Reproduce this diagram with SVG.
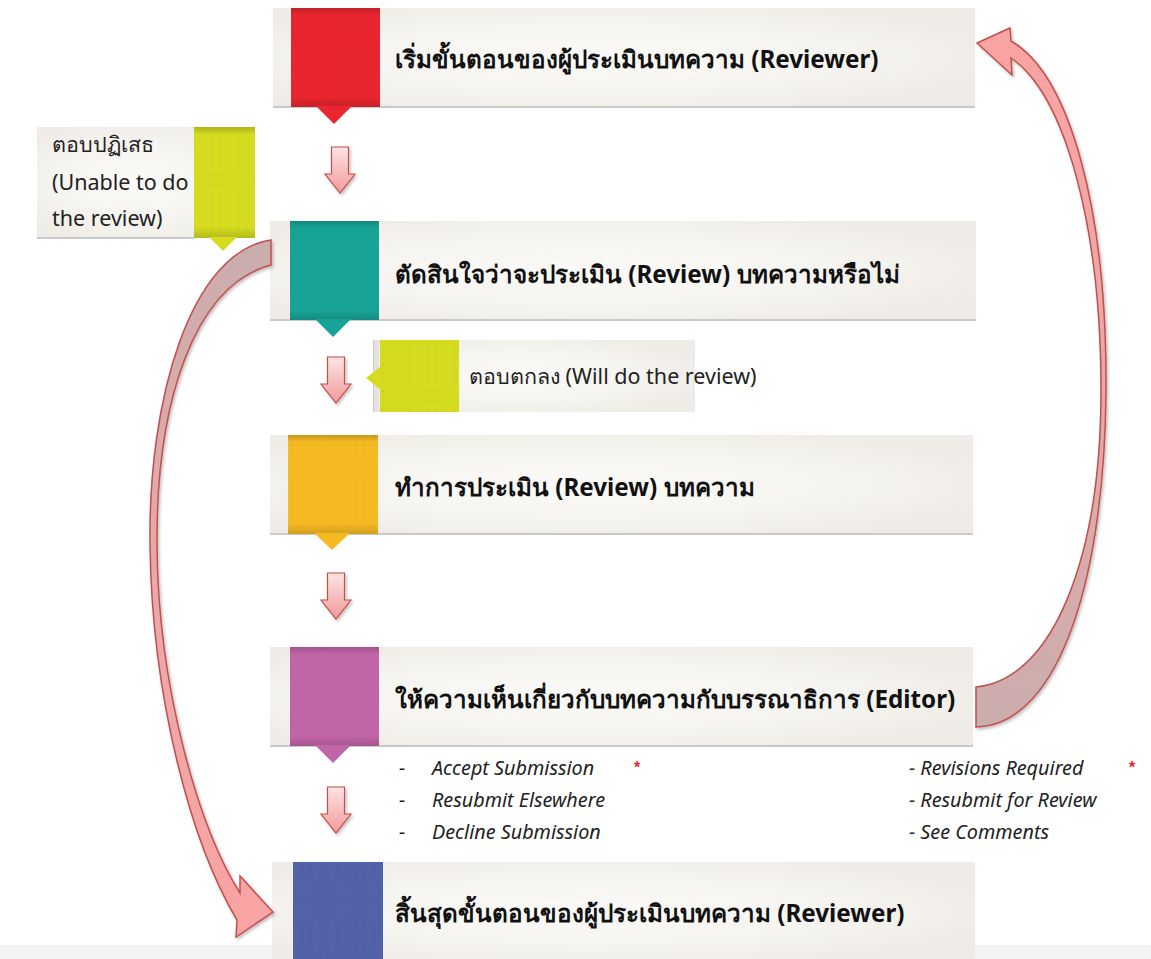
<svg xmlns="http://www.w3.org/2000/svg" width="1151" height="959" viewBox="0 0 1151 959">
<style>
.title{font-family:"Noto Sans","DejaVu Sans",sans-serif;font-weight:bold;font-size:24.2px;fill:#111}
.note{font-family:"Noto Sans","DejaVu Sans",sans-serif;font-size:21.5px;fill:#222}
.item{font-family:"Noto Sans","DejaVu Sans",sans-serif;font-style:italic;font-size:19.8px;fill:#222}
.star{font-family:"Liberation Sans",sans-serif;font-size:16px;fill:#e8232f;font-weight:bold}
.bg{fill:url(#bgGrad)}
.base{stroke:#c9c9c9;stroke-width:2}
.dots{fill:url(#dotPat)}
.shade{fill:url(#tabShade)}
.curve{stroke:#c0504d;stroke-width:1.5;filter:url(#sh)}
</style>
<defs>
<radialGradient id="bgGrad" cx="0.45" cy="0.5" r="0.6">
<stop offset="0" stop-color="#fbfaf8"/>
<stop offset="0.6" stop-color="#f6f4f0"/>
<stop offset="1" stop-color="#efece7"/>
</radialGradient>
<pattern id="dotPat" width="9" height="9" patternUnits="userSpaceOnUse">
<circle cx="4.5" cy="4.5" r="1" fill="#000" fill-opacity="0.07"/>
</pattern>
<linearGradient id="tabShade" x1="0" y1="0" x2="0" y2="1">
<stop offset="0" stop-color="#000" stop-opacity="0.18"/>
<stop offset="0.07" stop-color="#000" stop-opacity="0"/>
<stop offset="0.9" stop-color="#000" stop-opacity="0"/>
<stop offset="1" stop-color="#000" stop-opacity="0.15"/>
</linearGradient>
<linearGradient id="downGrad" x1="0" y1="0" x2="0" y2="1">
<stop offset="0" stop-color="#fde4e4"/>
<stop offset="1" stop-color="#f39a9a"/>
</linearGradient>
<linearGradient id="leftGrad" gradientUnits="userSpaceOnUse" x1="0" y1="240" x2="0" y2="937">
<stop offset="0" stop-color="#c9adad"/>
<stop offset="0.45" stop-color="#e6a9a9"/>
<stop offset="1" stop-color="#fba3a3"/>
</linearGradient>
<linearGradient id="rightGrad" gradientUnits="userSpaceOnUse" x1="0" y1="727" x2="0" y2="28">
<stop offset="0" stop-color="#c9adad"/>
<stop offset="0.45" stop-color="#e6a9a9"/>
<stop offset="1" stop-color="#fba3a3"/>
</linearGradient>
<filter id="sh" x="-20%" y="-20%" width="140%" height="140%">
<feDropShadow dx="1.5" dy="2" stdDeviation="1.5" flood-color="#000" flood-opacity="0.25"/>
</filter>
<path id="downArrow" d="M -8.5,0 H 8.5 V 27 H 15 L 0,46 L -15,27 H -8.5 Z" fill="url(#downGrad)" stroke="#c0504d" stroke-width="1.2"/>
</defs>

<rect x="0" y="945" width="1151" height="14" fill="#f3f3f3"/>

<g id="node-start">
<rect class="bg" x="273" y="8" width="702" height="99"/>
<line class="base" x1="273" y1="107" x2="975" y2="107"/>
<rect x="291" y="8" width="89" height="99" fill="#e9262f"/>
<rect class="dots" x="291" y="8" width="89" height="99"/>
<rect class="shade" x="291" y="8" width="89" height="99"/>
<polygon points="316,106 352,106 334,124" fill="#e9262f"/>
<text class="title" x="395" y="68">เริ่มขั้นตอนของผู้ประเมินบทความ (Reviewer)</text>
</g>

<g id="node-decide">
<rect class="bg" x="270" y="221" width="706" height="99"/>
<line class="base" x1="270" y1="320" x2="976" y2="320"/>
<rect x="290" y="221" width="89" height="99" fill="#17a496"/>
<rect class="dots" x="290" y="221" width="89" height="99"/>
<rect class="shade" x="290" y="221" width="89" height="99"/>
<polygon points="315,319 351,319 333,337" fill="#17a496"/>
<text class="title" x="395" y="283">ตัดสินใจว่าจะประเมิน (Review) บทความหรือไม่</text>
</g>

<g id="node-review">
<rect class="bg" x="270" y="435" width="703" height="99"/>
<line class="base" x1="270" y1="534" x2="973" y2="534"/>
<rect x="288" y="435" width="90" height="99" fill="#f5b922"/>
<rect class="dots" x="288" y="435" width="90" height="99"/>
<rect class="shade" x="288" y="435" width="90" height="99"/>
<polygon points="314,533 350,533 332,550" fill="#f5b922"/>
<text class="title" x="395" y="496">ทำการประเมิน (Review) บทความ</text>
</g>

<g id="node-comment">
<rect class="bg" x="270" y="647" width="703" height="99"/>
<line class="base" x1="270" y1="746" x2="973" y2="746"/>
<rect x="290" y="647" width="89" height="99" fill="#c265a8"/>
<rect class="dots" x="290" y="647" width="89" height="99"/>
<rect class="shade" x="290" y="647" width="89" height="99"/>
<polygon points="315,745 351,745 333,763" fill="#c265a8"/>
<text class="title" x="395" y="708">ให้ความเห็นเกี่ยวกับบทความกับบรรณาธิการ (Editor)</text>
</g>

<g id="node-end">
<rect class="bg" x="272" y="862" width="703" height="97"/>
<rect x="293" y="862" width="90" height="97" fill="#5361a9"/>
<rect class="dots" x="293" y="862" width="90" height="97"/>
<text class="title" x="395" y="922">สิ้นสุดขั้นตอนของผู้ประเมินบทความ (Reviewer)</text>
</g>

<g id="note-decline">
<rect class="bg" x="37" y="127" width="218" height="111"/>
<line class="base" x1="37" y1="238" x2="194" y2="238"/>
<rect x="194" y="127" width="61" height="111" fill="#d5dc20"/>
<rect class="dots" x="194" y="127" width="61" height="111"/>
<rect class="shade" x="194" y="127" width="61" height="111"/>
<polygon points="209,237 237,237 223,251" fill="#d5dc20"/>
<text class="note" x="52" y="152">ตอบปฏิเสธ</text>
<text class="note" x="52" y="190">(Unable to do</text>
<text class="note" x="52" y="226">the review)</text>
</g>

<g id="note-accept">
<rect class="bg" x="373" y="340" width="322" height="72"/>
<rect x="373" y="340" width="6" height="72" fill="#e6e3de"/>
<line x1="373.5" y1="340" x2="373.5" y2="412" stroke="#c9c9c9" stroke-width="1"/>
<rect x="380" y="340" width="79" height="72" fill="#d5dc20"/>
<rect class="dots" x="380" y="340" width="79" height="72"/>
<polygon points="381,366 381,390 366,378" fill="#d5dc20"/>
<text class="note" x="469" y="384">ตอบตกลง (Will do the review)</text>
</g>

<g id="decision-list">
<text class="item" x="399" y="775" font-style="normal">-</text>
<text class="item" x="432" y="775">Accept Submission</text>
<text class="star" x="634" y="773">*</text>
<text class="item" x="399" y="807" font-style="normal">-</text>
<text class="item" x="432" y="807">Resubmit Elsewhere</text>
<text class="item" x="399" y="839" font-style="normal">-</text>
<text class="item" x="432" y="839">Decline Submission</text>
<text class="item" x="909" y="775">- Revisions Required</text>
<text class="star" x="1129" y="773">*</text>
<text class="item" x="909" y="807">- Resubmit for Review</text>
<text class="item" x="909" y="839">- See Comments</text>
</g>

<g id="connectors">
<use href="#downArrow" x="340" y="147" filter="url(#sh)"/>
<use href="#downArrow" x="336" y="357" filter="url(#sh)"/>
<use href="#downArrow" x="336" y="573" filter="url(#sh)"/>
<use href="#downArrow" x="336" y="787" filter="url(#sh)"/>
<path class="curve" fill="url(#leftGrad)" d="M 271,240 C 190,252 148,400 150,545 C 152,700 192,845 237,920 L 236,937 L 273,912 L 240,876 L 240,893 C 200,830 158,690 157,545 C 156,400 195,285 271,265 Z"/>
<path class="curve" fill="url(#rightGrad)" d="M 976,687 C 1052,680 1101,560 1101,390 C 1101,230 1066,95 1011,58 L 1012,75 L 977,43 L 1010,28 L 1011,41 C 1070,75 1107,210 1106,390 C 1105,570 1062,725 976,727 Z"/>
</g>
</svg>
